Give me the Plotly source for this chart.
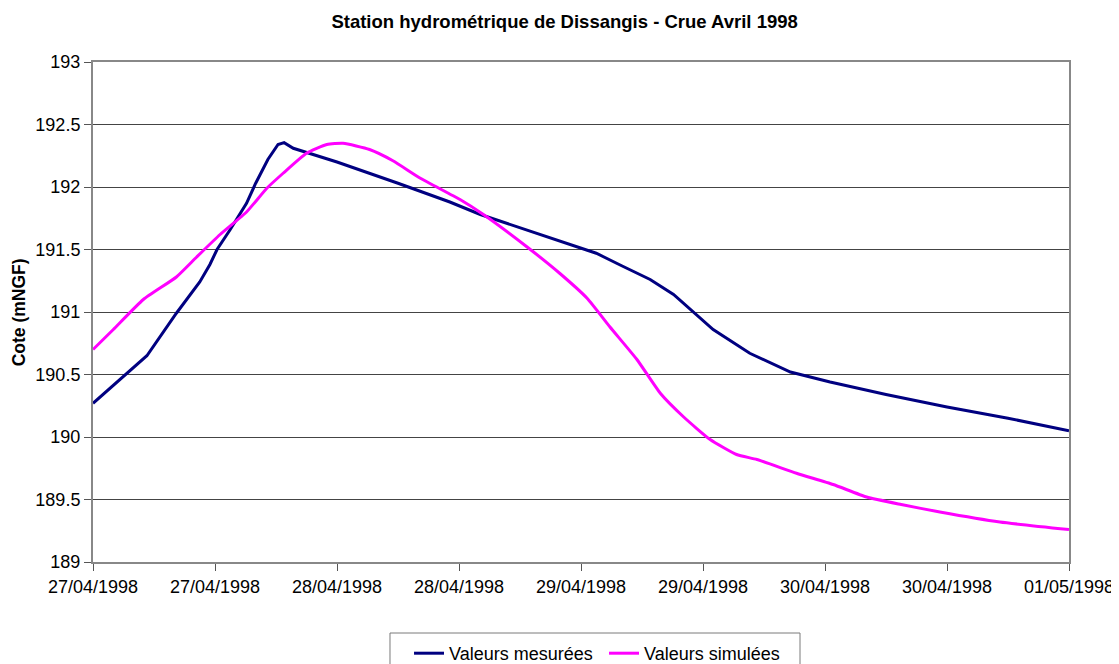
import pandas as pd
import plotly.graph_objects as go

start = pd.Timestamp("1998-04-27 00:00")

# Measured values: hours after start, level (mNGF)
mes_hours = [0, 2.5, 5.3, 8.2, 9.9, 10.5, 11.5, 12.2, 13.5, 15.1, 16.0, 17.2, 18.2, 18.8,
             19.7, 24.0, 30.0, 35.1, 38.1, 44.0, 49.5, 52.0, 54.8, 57.1, 59.0, 61.0,
             64.6, 68.6, 72.5, 78.0, 84.0, 90.0, 96.0]
mes_vals = [190.27, 190.45, 190.65, 190.99, 191.18, 191.24, 191.38, 191.50, 191.66, 191.87,
            192.03, 192.22, 192.34, 192.355, 192.31, 192.20, 192.03, 191.88, 191.78, 191.62,
            191.47, 191.37, 191.26, 191.14, 191.00, 190.86, 190.67, 190.52, 190.44, 190.34,
            190.24, 190.15, 190.05]

# Simulated values
sim_hours = [0, 2.0, 4.95, 8.2, 10.2, 12.5, 15.1, 17.1, 18.7, 21.0, 23.0, 24.6, 27.2, 29.5,
             32.2, 36.1, 38.4, 42.7, 45.9, 48.6, 50.85, 53.5, 55.8, 58.1, 60.7, 63.3, 65.3,
             69.2, 72.8, 76.1, 79.5, 83.3, 89.2, 96.0]
sim_vals = [190.70, 190.86, 191.10, 191.28, 191.44, 191.62, 191.80, 191.99, 192.11, 192.27,
            192.34, 192.35, 192.30, 192.21, 192.07, 191.90, 191.78, 191.52, 191.31, 191.11,
            190.88, 190.62, 190.35, 190.16, 189.98, 189.86, 189.82, 189.71, 189.62, 189.52,
            189.46, 189.40, 189.32, 189.26]

mes_t = [start + pd.Timedelta(hours=h) for h in mes_hours]
sim_t = [start + pd.Timedelta(hours=h) for h in sim_hours]

font = "Liberation Sans, Arial, sans-serif"
W, H = 1111, 656  # page body adds an 8px margin

fig = go.Figure()
fig.add_trace(go.Scatter(x=mes_t, y=mes_vals, mode="lines", name="Valeurs mesurées",
                         line=dict(color="#000080", width=3)))
fig.add_trace(go.Scatter(x=sim_t, y=sim_vals, mode="lines", name="Valeurs simulées",
                         line=dict(color="#FF00FF", width=3, shape="spline", smoothing=0.5)))

fig.update_layout(
    width=W, height=H,
    margin=dict(l=85, r=50, t=54, b=102, autoexpand=False),
    paper_bgcolor="white", plot_bgcolor="white",
    font=dict(family=font, size=18, color="black"),
    title=dict(text="<b>Station hydrométrique de Dissangis - Crue Avril 1998</b>",
               x=0.501, xanchor="center", y=1 - 14 / H, yanchor="middle",
               font=dict(family=font, size=18.5, color="black")),
    showlegend=True,
    legend=dict(orientation="h", x=0.3238, xanchor="left", y=-0.146, yanchor="top",
                borderwidth=0, bgcolor="rgba(0,0,0,0)", font=dict(size=18),
                itemwidth=30, tracegroupgap=0, entrywidth=150, entrywidthmode="pixels"),
    xaxis=dict(type="date", range=[start, start + pd.Timedelta(hours=96)],
               tick0=start, dtick=12 * 3600 * 1000, tickformat="%d/%m/%Y",
               showgrid=False, showline=True, linecolor="#888888", linewidth=2,
               mirror=True, ticks="outside", ticklen=7, tickcolor="#555555",
               tickfont=dict(size=18)),
    yaxis=dict(range=[189, 193], dtick=0.5, showgrid=True, gridcolor="#444444",
               gridwidth=1, showline=True, linecolor="#888888", linewidth=2,
               mirror=True, ticks="outside", ticklen=7, tickcolor="#555555",
               tickfont=dict(size=18), zeroline=False),
    shapes=[dict(type="rect", xref="paper", yref="paper",
                 x0=0.3043, x1=0.7244, y0=-0.142, y1=-0.23,
                 line=dict(color="#7a7a7a", width=1), fillcolor="rgba(0,0,0,0)")],
    annotations=[dict(text="<b>Cote (mNGF)</b>", textangle=-90, xref="paper", yref="paper",
                      x=-0.0755, y=0.5, xanchor="center", yanchor="middle", showarrow=False,
                      font=dict(family=font, size=17.5, color="black"))],
)

fig.write_html("out.html")
